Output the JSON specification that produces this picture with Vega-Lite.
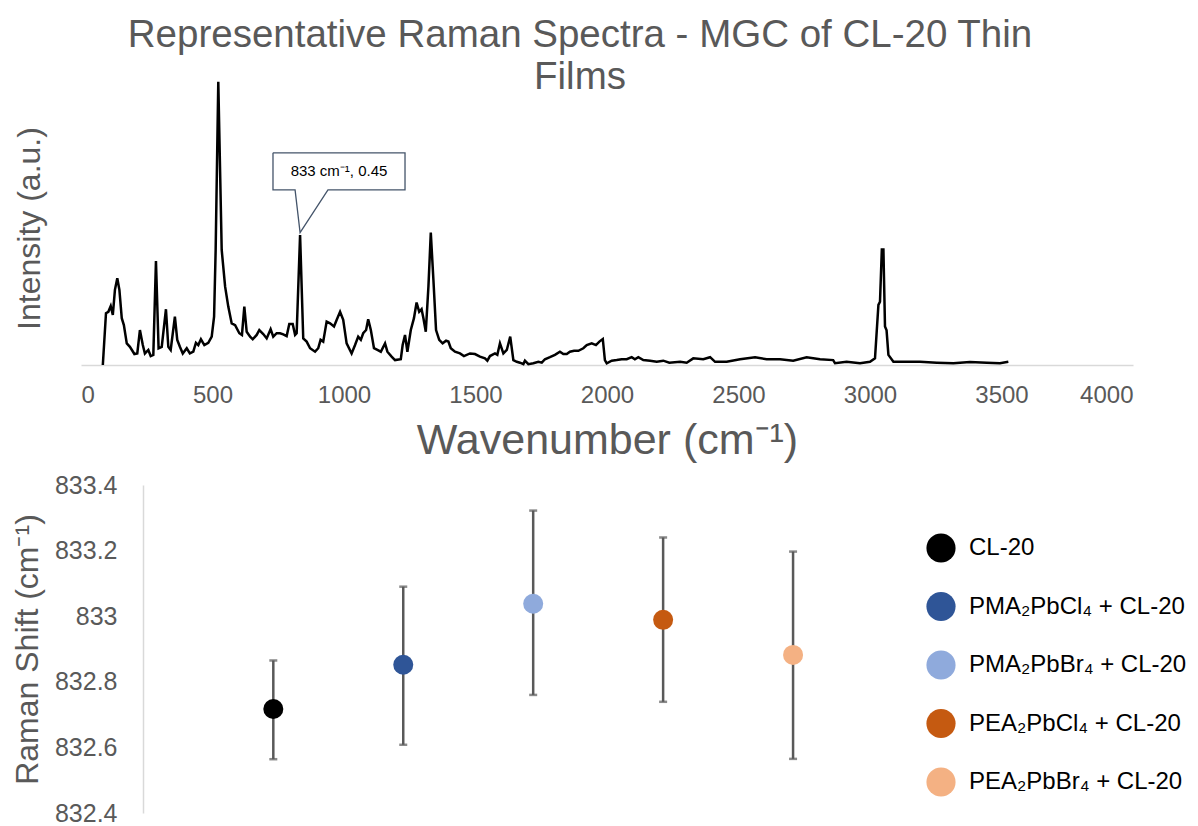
{
  "$schema": "https://vega.github.io/schema/vega-lite/v6.json",
  "background": "white",
  "padding": {"left": 11, "top": 15, "right": 0, "bottom": 0},
  "config": {
    "view": {"stroke": null},
    "font": "Liberation Sans",
    "axis": {"labelFont": "Liberation Sans", "titleFont": "Liberation Sans", "titleFontWeight": "normal", "labelColor": "#595959", "titleColor": "#595959", "grid": false, "ticks": false, "tickSize": 0, "domainColor": "#d9d9d9", "domainWidth": 1.5}
  },
  "datasets": {
    "spectrum": [
      {"wavenumber":83,"intensity":0},{"wavenumber":95,"intensity":0.179},{"wavenumber":104,"intensity":0.184},{"wavenumber":113,"intensity":0.204},{"wavenumber":121,"intensity":0.173},{"wavenumber":129,"intensity":0.26},{"wavenumber":138,"intensity":0.3},{"wavenumber":146,"intensity":0.26},{"wavenumber":155,"intensity":0.162},{"wavenumber":163,"intensity":0.138},{"wavenumber":174,"intensity":0.075},{"wavenumber":186,"intensity":0.063},{"wavenumber":203,"intensity":0.038},{"wavenumber":214,"intensity":0.04},{"wavenumber":224,"intensity":0.121},{"wavenumber":235,"intensity":0.069},{"wavenumber":243,"intensity":0.04},{"wavenumber":256,"intensity":0.052},{"wavenumber":265,"intensity":0.031},{"wavenumber":275,"intensity":0.035},{"wavenumber":285,"intensity":0.36},{"wavenumber":295,"intensity":0.058},{"wavenumber":307,"intensity":0.063},{"wavenumber":323,"intensity":0.193},{"wavenumber":332,"intensity":0.063},{"wavenumber":341,"intensity":0.052},{"wavenumber":357,"intensity":0.167},{"wavenumber":366,"intensity":0.087},{"wavenumber":376,"intensity":0.063},{"wavenumber":387,"intensity":0.04},{"wavenumber":402,"intensity":0.058},{"wavenumber":414,"intensity":0.04},{"wavenumber":427,"intensity":0.046},{"wavenumber":437,"intensity":0.077},{"wavenumber":446,"intensity":0.069},{"wavenumber":456,"intensity":0.089},{"wavenumber":469,"intensity":0.069},{"wavenumber":484,"intensity":0.077},{"wavenumber":497,"intensity":0.098},{"wavenumber":506,"intensity":0.167},{"wavenumber":512,"intensity":0.398},{"wavenumber":522,"intensity":0.98},{"wavenumber":535,"intensity":0.398},{"wavenumber":548,"intensity":0.271},{"wavenumber":560,"intensity":0.202},{"wavenumber":573,"intensity":0.144},{"wavenumber":586,"intensity":0.138},{"wavenumber":602,"intensity":0.11},{"wavenumber":612,"intensity":0.104},{"wavenumber":621,"intensity":0.202},{"wavenumber":630,"intensity":0.115},{"wavenumber":643,"intensity":0.098},{"wavenumber":653,"intensity":0.089},{"wavenumber":668,"intensity":0.104},{"wavenumber":678,"intensity":0.121},{"wavenumber":693,"intensity":0.107},{"wavenumber":706,"intensity":0.092},{"wavenumber":721,"intensity":0.124},{"wavenumber":731,"intensity":0.098},{"wavenumber":744,"intensity":0.11},{"wavenumber":757,"intensity":0.11},{"wavenumber":769,"intensity":0.106},{"wavenumber":782,"intensity":0.1},{"wavenumber":792,"intensity":0.142},{"wavenumber":805,"intensity":0.142},{"wavenumber":814,"intensity":0.104},{"wavenumber":820,"intensity":0.11},{"wavenumber":833,"intensity":0.45},{"wavenumber":845,"intensity":0.092},{"wavenumber":858,"intensity":0.081},{"wavenumber":871,"intensity":0.058},{"wavenumber":890,"intensity":0.046},{"wavenumber":902,"intensity":0.058},{"wavenumber":911,"intensity":0.087},{"wavenumber":921,"intensity":0.081},{"wavenumber":934,"intensity":0.15},{"wavenumber":947,"intensity":0.144},{"wavenumber":962,"intensity":0.133},{"wavenumber":972,"intensity":0.156},{"wavenumber":985,"intensity":0.184},{"wavenumber":997,"intensity":0.156},{"wavenumber":1010,"intensity":0.075},{"wavenumber":1029,"intensity":0.04},{"wavenumber":1042,"intensity":0.069},{"wavenumber":1054,"intensity":0.098},{"wavenumber":1064,"intensity":0.087},{"wavenumber":1073,"intensity":0.11},{"wavenumber":1084,"intensity":0.121},{"wavenumber":1092,"intensity":0.158},{"wavenumber":1102,"intensity":0.121},{"wavenumber":1114,"intensity":0.058},{"wavenumber":1127,"intensity":0.052},{"wavenumber":1140,"intensity":0.046},{"wavenumber":1156,"intensity":0.075},{"wavenumber":1165,"intensity":0.046},{"wavenumber":1181,"intensity":0.029},{"wavenumber":1194,"intensity":0.017},{"wavenumber":1216,"intensity":0.02},{"wavenumber":1223,"intensity":0.069},{"wavenumber":1232,"intensity":0.104},{"wavenumber":1241,"intensity":0.046},{"wavenumber":1254,"intensity":0.121},{"wavenumber":1266,"intensity":0.162},{"wavenumber":1276,"intensity":0.216},{"wavenumber":1286,"intensity":0.184},{"wavenumber":1295,"intensity":0.193},{"wavenumber":1302,"intensity":0.162},{"wavenumber":1311,"intensity":0.115},{"wavenumber":1321,"intensity":0.271},{"wavenumber":1330,"intensity":0.458},{"wavenumber":1340,"intensity":0.294},{"wavenumber":1350,"intensity":0.121},{"wavenumber":1362,"intensity":0.087},{"wavenumber":1375,"intensity":0.075},{"wavenumber":1388,"intensity":0.084},{"wavenumber":1397,"intensity":0.081},{"wavenumber":1406,"intensity":0.058},{"wavenumber":1422,"intensity":0.046},{"wavenumber":1441,"intensity":0.04},{"wavenumber":1456,"intensity":0.031},{"wavenumber":1479,"intensity":0.04},{"wavenumber":1498,"intensity":0.038},{"wavenumber":1517,"intensity":0.029},{"wavenumber":1536,"intensity":0.023},{"wavenumber":1545,"intensity":0.015},{"wavenumber":1555,"intensity":0.031},{"wavenumber":1574,"intensity":0.04},{"wavenumber":1583,"intensity":0.035},{"wavenumber":1593,"intensity":0.075},{"wavenumber":1606,"intensity":0.04},{"wavenumber":1619,"intensity":0.052},{"wavenumber":1632,"intensity":0.098},{"wavenumber":1644,"intensity":0.017},{"wavenumber":1657,"intensity":0.011},{"wavenumber":1669,"intensity":0.008},{"wavenumber":1682,"intensity":0.003},{"wavenumber":1688,"intensity":0.015},{"wavenumber":1701,"intensity":0.003},{"wavenumber":1720,"intensity":0.006},{"wavenumber":1739,"intensity":0.011},{"wavenumber":1752,"intensity":0.008},{"wavenumber":1764,"intensity":0.02},{"wavenumber":1783,"intensity":0.027},{"wavenumber":1802,"intensity":0.035},{"wavenumber":1821,"intensity":0.046},{"wavenumber":1834,"intensity":0.038},{"wavenumber":1847,"intensity":0.038},{"wavenumber":1859,"intensity":0.046},{"wavenumber":1875,"intensity":0.049},{"wavenumber":1891,"intensity":0.049},{"wavenumber":1910,"intensity":0.058},{"wavenumber":1923,"intensity":0.069},{"wavenumber":1942,"intensity":0.075},{"wavenumber":1958,"intensity":0.069},{"wavenumber":1971,"intensity":0.081},{"wavenumber":1984,"intensity":0.09},{"wavenumber":1992,"intensity":0.017},{"wavenumber":1999,"intensity":0.006},{"wavenumber":2018,"intensity":0.015},{"wavenumber":2037,"intensity":0.017},{"wavenumber":2056,"intensity":0.02},{"wavenumber":2075,"intensity":0.02},{"wavenumber":2094,"intensity":0.027},{"wavenumber":2106,"intensity":0.02},{"wavenumber":2119,"intensity":0.027},{"wavenumber":2138,"intensity":0.017},{"wavenumber":2164,"intensity":0.015},{"wavenumber":2189,"intensity":0.011},{"wavenumber":2214,"intensity":0.015},{"wavenumber":2237,"intensity":0.008},{"wavenumber":2278,"intensity":0.011},{"wavenumber":2303,"intensity":0.008},{"wavenumber":2328,"intensity":0.023},{"wavenumber":2366,"intensity":0.02},{"wavenumber":2392,"intensity":0.027},{"wavenumber":2411,"intensity":0.011},{"wavenumber":2455,"intensity":0.011},{"wavenumber":2506,"intensity":0.02},{"wavenumber":2563,"intensity":0.027},{"wavenumber":2607,"intensity":0.02},{"wavenumber":2658,"intensity":0.02},{"wavenumber":2708,"intensity":0.015},{"wavenumber":2759,"intensity":0.027},{"wavenumber":2810,"intensity":0.02},{"wavenumber":2860,"intensity":0.017},{"wavenumber":2867,"intensity":0.006},{"wavenumber":2911,"intensity":0.011},{"wavenumber":2962,"intensity":0.006},{"wavenumber":3000,"intensity":0.011},{"wavenumber":3019,"intensity":0.023},{"wavenumber":3032,"intensity":0.208},{"wavenumber":3038,"intensity":0.219},{"wavenumber":3045,"intensity":0.4},{"wavenumber":3051,"intensity":0.4},{"wavenumber":3057,"intensity":0.133},{"wavenumber":3063,"intensity":0.12},{"wavenumber":3070,"intensity":0.035},{"wavenumber":3089,"intensity":0.011},{"wavenumber":3114,"intensity":0.011},{"wavenumber":3190,"intensity":0.011},{"wavenumber":3254,"intensity":0.008},{"wavenumber":3317,"intensity":0.006},{"wavenumber":3380,"intensity":0.01},{"wavenumber":3444,"intensity":0.008},{"wavenumber":3494,"intensity":0.006},{"wavenumber":3526,"intensity":0.011}
    ],
    "callout": [
      {"step":1,"wavenumber":730,"intensity":0.734},
      {"step":2,"wavenumber":1232,"intensity":0.734},
      {"step":3,"wavenumber":1232,"intensity":0.606},
      {"step":4,"wavenumber":939,"intensity":0.606},
      {"step":5,"wavenumber":833,"intensity":0.458},
      {"step":6,"wavenumber":814,"intensity":0.606},
      {"step":7,"wavenumber":730,"intensity":0.606},
      {"step":8,"wavenumber":730,"intensity":0.734}
    ],
    "calloutLabel": [
      {"wavenumber":981,"intensity":0.671,"label":"833 cm⁻¹, 0.45"}
    ],
    "shift": [
      {"sample":"CL-20","idx":1,"mean":832.717,"lo":832.564,"hi":832.865},
      {"sample":"PMA₂PbCl₄ + CL-20","idx":2,"mean":832.852,"lo":832.608,"hi":833.09},
      {"sample":"PMA₂PbBr₄ + CL-20","idx":3,"mean":833.038,"lo":832.76,"hi":833.322},
      {"sample":"PEA₂PbCl₄ + CL-20","idx":4,"mean":832.989,"lo":832.739,"hi":833.24},
      {"sample":"PEA₂PbBr₄ + CL-20","idx":5,"mean":832.882,"lo":832.565,"hi":833.197}
    ]
  },
  "spacing": 11,
  "vconcat": [
    {
      "width": 1052,
      "height": 289,
      "title": {"text": ["Representative Raman Spectra - MGC of CL-20 Thin", "Films"], "font": "Liberation Sans", "fontSize": 38.5, "fontWeight": "normal", "color": "#595959", "lineHeight": 42, "anchor": "middle", "dx": -27, "offset": -21},
      "layer": [
        {
          "data": {"name": "spectrum"},
          "mark": {"type": "line", "color": "#000000", "strokeWidth": 2.5},
          "encoding": {
            "x": {"field": "wavenumber", "type": "quantitative", "scale": {"domain": [0, 4000], "nice": false},
                  "axis": {"values": [0,500,1000,1500,2000,2500,3000,3500,4000], "format": "d", "labelFontSize": 24, "labelPadding": 18, "title": "Wavenumber (cm⁻¹)", "titleFontSize": 43, "titlePadding": 12}},
            "y": {"field": "intensity", "type": "quantitative", "scale": {"domain": [0, 1], "nice": false},
                  "axis": {"domain": false, "labels": false, "ticks": false, "title": "Intensity (a.u.)", "titleFontSize": 32, "titlePadding": 35, "titleY": 152}}
          }
        },
        {
          "data": {"name": "callout"},
          "mark": {"type": "line", "color": "#44546A", "strokeWidth": 1.3, "strokeJoin": "miter"},
          "encoding": {
            "x": {"field": "wavenumber", "type": "quantitative"},
            "y": {"field": "intensity", "type": "quantitative"},
            "order": {"field": "step", "type": "quantitative"}
          }
        },
        {
          "data": {"name": "calloutLabel"},
          "mark": {"type": "text", "fontSize": 15, "color": "#000000", "align": "center", "baseline": "middle", "font": "Liberation Sans"},
          "encoding": {
            "x": {"field": "wavenumber", "type": "quantitative"},
            "y": {"field": "intensity", "type": "quantitative"},
            "text": {"field": "label"}
          }
        }
      ]
    },
    {
      "width": 842,
      "height": 328,
      "data": {"name": "shift"},
      "encoding": {
        "x": {"field": "idx", "type": "quantitative", "scale": {"domain": [-0.48, 6], "nice": false}, "axis": null}
      },
      "layer": [
        {
          "mark": {"type": "rule", "color": "#595959", "strokeWidth": 2.5},
          "encoding": {
            "y": {"field": "lo", "type": "quantitative", "scale": {"domain": [832.4, 833.4], "nice": false, "zero": false},
                  "axis": {"values": [832.4, 832.6, 832.8, 833, 833.2, 833.4], "format": "~g", "labelFontSize": 25, "labelPadding": 26, "offset": -62, "title": "Raman Shift (cm⁻¹)", "titleFontSize": 32, "titlePadding": 10}},
            "y2": {"field": "hi"}
          }
        },
        {
          "mark": {"type": "tick", "color": "#595959", "thickness": 2.5, "size": 8, "orient": "horizontal"},
          "encoding": {"y": {"field": "lo", "type": "quantitative"}}
        },
        {
          "mark": {"type": "tick", "color": "#595959", "thickness": 2.5, "size": 8, "orient": "horizontal"},
          "encoding": {"y": {"field": "hi", "type": "quantitative"}}
        },
        {
          "mark": {"type": "circle", "size": 400, "opacity": 1},
          "encoding": {
            "y": {"field": "mean", "type": "quantitative"},
            "color": {"field": "sample", "type": "nominal",
              "scale": {"domain": ["CL-20", "PMA₂PbCl₄ + CL-20", "PMA₂PbBr₄ + CL-20", "PEA₂PbCl₄ + CL-20", "PEA₂PbBr₄ + CL-20"], "range": ["#000000", "#2F5597", "#8FAADC", "#C55A11", "#F4B183"]},
              "legend": {"title": null, "orient": "none", "legendX": 845, "legendY": 457, "symbolType": "circle", "symbolSize": 850, "symbolStrokeWidth": 0, "symbolOpacity": 1, "labelFontSize": 24, "labelFont": "Liberation Sans", "labelColor": "#000000", "rowPadding": 28.5, "labelOffset": 13, "labelLimit": 400}}
          }
        }
      ]
    }
  ]
}
